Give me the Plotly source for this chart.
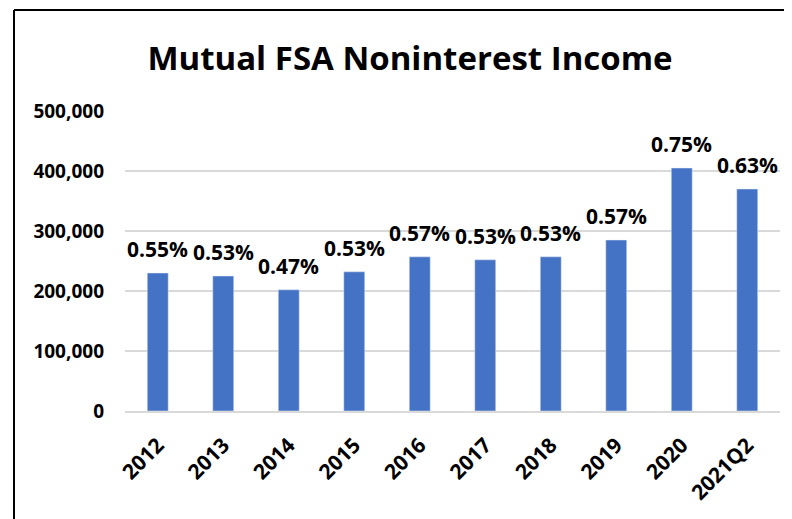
import plotly.graph_objects as go

categories = ["2012", "2013", "2014", "2015", "2016", "2017", "2018", "2019", "2020", "2021Q2"]
income = [230000, 225000, 202000, 232000, 257000, 252000, 257000, 285000, 405000, 370000]
ratio_labels = ["0.55%", "0.53%", "0.47%", "0.53%", "0.57%", "0.53%", "0.53%", "0.57%", "0.75%", "0.63%"]
y_ticks = [0, 100000, 200000, 300000, 400000, 500000]

FONT = "Open Sans"
OFF = 8  # default body margin of the page
W, H = 792 - OFF, 519 - OFF
L, T = 125 - OFF, 111 - OFF
R = W - (780 - OFF)
B = H - (411 - OFF)
pw, ph = W - L - R, H - T - B

idx = list(range(len(categories)))

fig = go.Figure(go.Bar(x=idx, y=income, marker_color="#4472C4", width=0.32))

for i, v, t in zip(idx, income, ratio_labels):
    fig.add_annotation(x=i, y=v, text=t, showarrow=False, yanchor="bottom", yshift=8,
                       font=dict(family=FONT, size=21, color="#000000", weight="bold"))

bx = ((14 - OFF) - L) / pw
by = 1 + (T - (10 - OFF)) / ph
fig.add_shape(type="line", xref="paper", yref="paper", x0=bx, x1=bx, y0=-1, y1=by,
              line=dict(color="black", width=2))
fig.add_shape(type="line", xref="paper", yref="paper", x0=bx, x1=2, y0=by, y1=by,
              line=dict(color="black", width=2))

fig.update_layout(
    width=W, height=H, margin=dict(l=L, r=R, t=T, b=B, autoexpand=False),
    paper_bgcolor="white", plot_bgcolor="white",
    title=dict(text="<b>Mutual FSA Noninterest Income</b>", x=(410 - OFF) / W, xanchor="center",
               y=1 - (58 - OFF) / H, yanchor="middle", font=dict(family=FONT, size=33, color="black")),
    showlegend=False,
    xaxis=dict(range=[-0.5, len(categories) - 0.5], tickvals=idx, ticktext=categories,
               tickangle=-45, showgrid=False, showline=True, linecolor="#d9d9d9",
               linewidth=1.5, ticks="", automargin=False, zeroline=False,
               ticklabelstandoff=12,
               tickfont=dict(family=FONT, size=21, color="black", weight="bold")),
    yaxis=dict(range=[0, 500000], tickvals=y_ticks, tickformat=",", showgrid=True,
               gridcolor="#d9d9d9", gridwidth=1.5, zeroline=False, showline=False, ticks="",
               ticklabelstandoff=20, automargin=False,
               tickfont=dict(family=FONT, size=19, color="black", weight="bold")),
)

fig.write_html("out.html")
